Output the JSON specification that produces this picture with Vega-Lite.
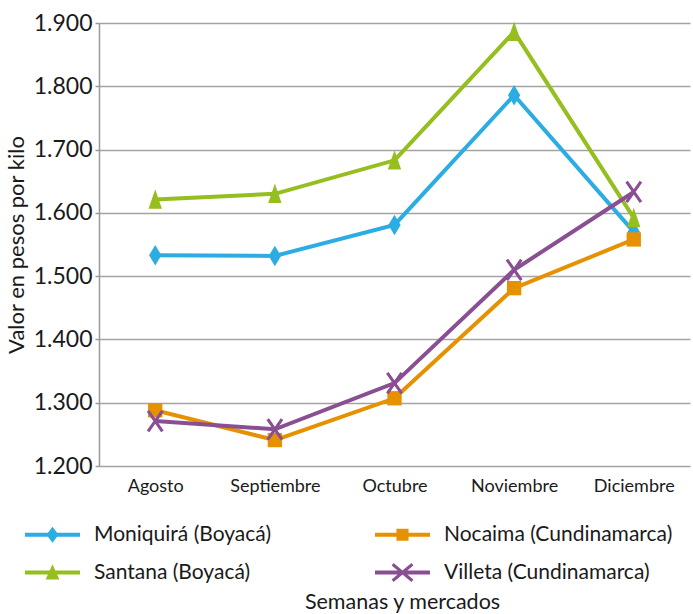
{
  "$schema": "https://vega.github.io/schema/vega-lite/v6.json",
  "width": 591,
  "height": 443,
  "autosize": {"type": "none"},
  "padding": {"left": 99, "top": 23, "right": 3, "bottom": 148},
  "background": "white",
  "config": {
    "font": "Lato",
    "view": {"stroke": null},
    "axis": {"labelFont": "Lato", "titleFont": "Lato", "labelColor": "#1a1a1a", "titleColor": "#1a1a1a", "titleFontWeight": "normal"},
    "legend": {"labelFont": "Lato"}
  },
  "data": {
    "values": [
      {"mercado": "Moniquirá (Boyacá)", "mes": "Agosto", "valor": 1533},
      {"mercado": "Moniquirá (Boyacá)", "mes": "Septiembre", "valor": 1532},
      {"mercado": "Moniquirá (Boyacá)", "mes": "Octubre", "valor": 1581},
      {"mercado": "Moniquirá (Boyacá)", "mes": "Noviembre", "valor": 1786},
      {"mercado": "Moniquirá (Boyacá)", "mes": "Diciembre", "valor": 1570},
      {"mercado": "Santana (Boyacá)", "mes": "Agosto", "valor": 1621},
      {"mercado": "Santana (Boyacá)", "mes": "Septiembre", "valor": 1630},
      {"mercado": "Santana (Boyacá)", "mes": "Octubre", "valor": 1683},
      {"mercado": "Santana (Boyacá)", "mes": "Noviembre", "valor": 1886},
      {"mercado": "Santana (Boyacá)", "mes": "Diciembre", "valor": 1592},
      {"mercado": "Nocaima (Cundinamarca)", "mes": "Agosto", "valor": 1288},
      {"mercado": "Nocaima (Cundinamarca)", "mes": "Septiembre", "valor": 1241},
      {"mercado": "Nocaima (Cundinamarca)", "mes": "Octubre", "valor": 1307},
      {"mercado": "Nocaima (Cundinamarca)", "mes": "Noviembre", "valor": 1481},
      {"mercado": "Nocaima (Cundinamarca)", "mes": "Diciembre", "valor": 1558},
      {"mercado": "Villeta (Cundinamarca)", "mes": "Agosto", "valor": 1271},
      {"mercado": "Villeta (Cundinamarca)", "mes": "Septiembre", "valor": 1258},
      {"mercado": "Villeta (Cundinamarca)", "mes": "Octubre", "valor": 1331},
      {"mercado": "Villeta (Cundinamarca)", "mes": "Noviembre", "valor": 1510},
      {"mercado": "Villeta (Cundinamarca)", "mes": "Diciembre", "valor": 1633}
    ]
  },
  "encoding": {
    "x": {
      "field": "mes", "type": "nominal",
      "sort": ["Agosto", "Septiembre", "Octubre", "Noviembre", "Diciembre"],
      "scale": {"type": "point", "padding": 0.47},
      "axis": {
        "title": "Semanas y mercados", "titleFontSize": 21.5, "titlePadding": 96, "titleX": 303,
        "labelAngle": 0, "labelFontSize": 18, "labelPadding": 11,
        "ticks": false, "domain": false, "grid": false
      }
    },
    "y": {
      "field": "valor", "type": "quantitative",
      "scale": {"domain": [1200, 1900], "nice": false, "zero": false},
      "axis": {
        "title": "Valor en pesos por kilo", "titleFontSize": 22, "titlePadding": 5,
        "values": [1200, 1300, 1400, 1500, 1600, 1700, 1800, 1900],
        "labelExpr": "replace(format(datum.value, ','), ',', '.')",
        "labelFontSize": 23, "labelPadding": 3, "tickSize": 4,
        "tickColor": "#9a9a9a", "domainColor": "#9a9a9a", "domainWidth": 1.5,
        "gridColor": "#a3a3a3", "gridWidth": 1.5, "tickWidth": 1.5
      }
    },
    "color": {
      "field": "mercado", "type": "nominal",
      "scale": {
        "domain": ["Moniquirá (Boyacá)", "Nocaima (Cundinamarca)", "Santana (Boyacá)", "Villeta (Cundinamarca)"],
        "range": ["#2BACE2", "#E69200", "#95BE1E", "#8A4F93"]
      },
      "legend": {
        "title": null, "orient": "none", "legendX": -74, "legendY": 484,
        "direction": "horizontal", "columns": 2, "columnPadding": 104, "rowPadding": -25,
        "labelFontSize": 21, "labelColor": "#1a1a1a", "labelOffset": 14, "labelLimit": 400,
        "symbolSize": 3025, "symbolOpacity": 1, "symbolStrokeWidth": 0
      }
    }
  },
  "layer": [
    {
      "mark": {"type": "line", "strokeWidth": 4}
    },
    {
      "mark": {"type": "point", "filled": true, "opacity": 0, "size": 1},
      "encoding": {
        "shape": {
          "field": "mercado", "type": "nominal",
          "scale": {
            "domain": ["Moniquirá (Boyacá)", "Nocaima (Cundinamarca)", "Santana (Boyacá)", "Villeta (Cundinamarca)"],
            "range": [
              "M-1,-0.073L1,-0.073L1,0.073L-1,0.073Z M0,-0.29L0.22,0L0,0.29L-0.22,0Z",
              "M-1,-0.073L1,-0.073L1,0.073L-1,0.073Z M-0.22,-0.22L0.22,-0.22L0.22,0.22L-0.22,0.22Z",
              "M-1,-0.073L1,-0.073L1,0.073L-1,0.073Z M0,-0.3L0.25,0.25L-0.25,0.25Z",
              "M-1,-0.073L1,-0.073L1,0.073L-1,0.073Z M-0.325,-0.342L0.395,0.258L0.325,0.342L-0.395,-0.258Z M0.325,-0.342L0.395,-0.258L-0.325,0.342L-0.395,0.258Z"
            ]
          },
          "legend": {
            "title": null, "orient": "none", "legendX": -74, "legendY": 484,
            "direction": "horizontal", "columns": 2, "columnPadding": 104, "rowPadding": -25,
            "labelFontSize": 21, "labelColor": "#1a1a1a", "labelOffset": 14, "labelLimit": 400,
            "symbolSize": 3025, "symbolOpacity": 1, "symbolStrokeWidth": 0
          }
        }
      }
    },
    {
      "transform": [{"filter": "datum.mercado === 'Moniquirá (Boyacá)'"}],
      "mark": {"type": "point", "filled": true, "opacity": 1, "size": 420, "strokeWidth": 0, "shape": "M0,-1L0.6,0L0,1L-0.6,0Z"}
    },
    {
      "transform": [{"filter": "datum.mercado === 'Nocaima (Cundinamarca)'"}],
      "mark": {"type": "point", "filled": true, "opacity": 1, "size": 420, "strokeWidth": 0, "shape": "M-0.7,-0.7L0.7,-0.7L0.7,0.7L-0.7,0.7Z"}
    },
    {
      "transform": [{"filter": "datum.mercado === 'Santana (Boyacá)'"}],
      "mark": {"type": "point", "filled": true, "opacity": 1, "size": 420, "strokeWidth": 0, "shape": "M0,-1L0.65,0.9L-0.65,0.9Z"}
    },
    {
      "transform": [{"filter": "datum.mercado === 'Villeta (Cundinamarca)'"}],
      "mark": {"type": "point", "filled": true, "opacity": 1, "size": 420, "strokeWidth": 0, "shape": "M-0.577,-1.086L0.823,0.914L0.577,1.086L-0.823,-0.914Z M0.577,-1.086L0.823,-0.914L-0.577,1.086L-0.823,0.914Z"}
    }
  ]
}
